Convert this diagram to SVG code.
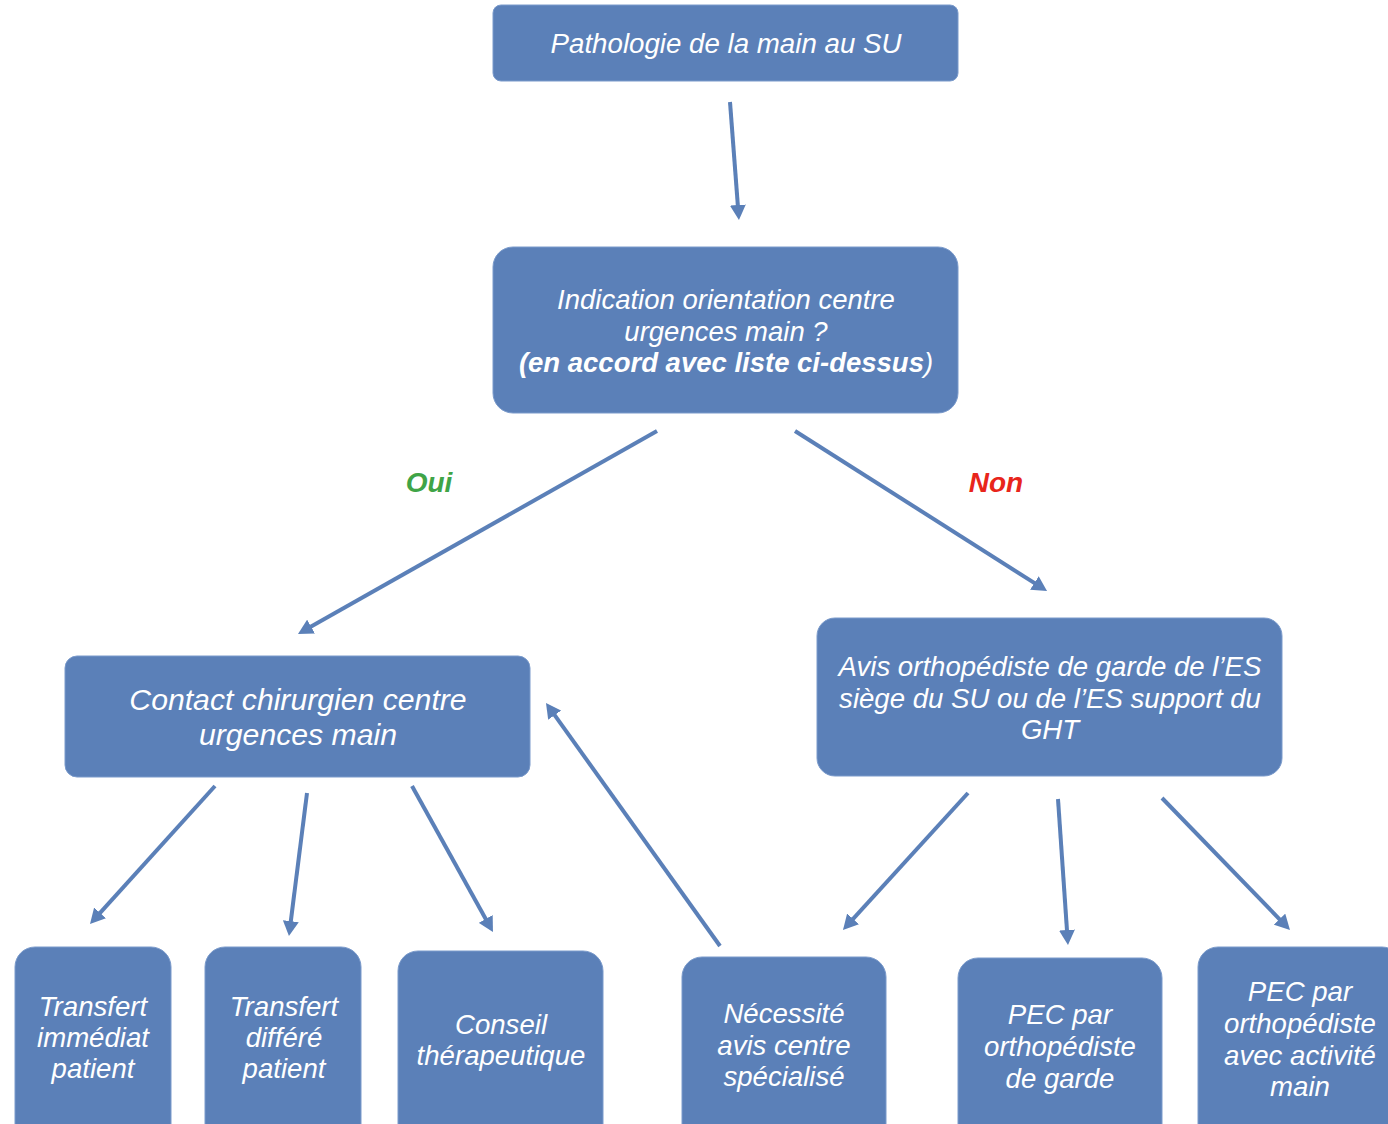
<svg xmlns="http://www.w3.org/2000/svg" width="1388" height="1124" viewBox="0 0 1388 1124">
<defs>
<style>
.box{fill:#5b80b8;stroke:#7a9acb;stroke-width:1}
.t{fill:#fff;font-family:"Liberation Sans",Arial,sans-serif;font-style:italic;text-anchor:middle}
.c{stroke:#5b80b8;stroke-width:4;fill:none;marker-end:url(#ah)}
.lbl{font-family:"Liberation Sans",Arial,sans-serif;font-style:italic;font-weight:bold;font-size:28px}
</style>
<marker id="ah" viewBox="0 0 16 16" refX="5" refY="8" markerWidth="16" markerHeight="16" markerUnits="userSpaceOnUse" orient="auto">
<path d="M0,0 L15,8 L0,16 z" fill="#5b80b8"/>
</marker>
</defs>
<rect width="1388" height="1124" fill="#fff"/>
<g id="connectors">
<path class="c" d="M730,102 L738.2,210"/>
<path class="c" d="M657,431 L306.7,629.1"/>
<path class="c" d="M795,431 L1038.6,585.6"/>
<path class="c" d="M215,786 L96.7,916.6"/>
<path class="c" d="M307,793 L290.2,926.1"/>
<path class="c" d="M412,786 L488.1,923.3"/>
<path class="c" d="M720,946 L551.8,711.1"/>
<path class="c" d="M968,793 L849.7,922.6"/>
<path class="c" d="M1058,799 L1067.3,935"/>
<path class="c" d="M1162,798 L1283,922.8"/>
<text class="lbl" x="429" y="492" fill="#3fa447" text-anchor="middle">Oui</text>
<text class="lbl" x="996" y="492" fill="#e8251b" text-anchor="middle">Non</text>
</g>
<g id="n-top">
<rect class="box" x="493" y="5" width="465" height="76" rx="8"/>
<text class="t" x="726" y="53" font-size="27.7">Pathologie de la main au SU</text>
</g>
<g id="n-indication">
<rect class="box" x="493" y="247" width="465" height="166" rx="20"/>
<text class="t" font-size="27.5"><tspan x="726" y="309">Indication orientation centre</tspan><tspan x="726" y="341">urgences main ?</tspan><tspan x="726" y="372" font-weight="bold">(en accord avec liste ci-dessus</tspan><tspan>)</tspan></text>
</g>
<g id="n-contact">
<rect class="box" x="65" y="656" width="465" height="121" rx="12"/>
<text class="t" font-size="30.2"><tspan x="298" y="710">Contact chirurgien centre</tspan><tspan x="298" y="745">urgences main</tspan></text>
</g>
<g id="n-avis">
<rect class="box" x="817" y="618" width="465" height="158" rx="18"/>
<text class="t" font-size="27.6"><tspan x="1050" y="676">Avis orthopédiste de garde de l’ES</tspan><tspan x="1050" y="708">siège du SU ou de l’ES support du</tspan><tspan x="1050" y="739">GHT</tspan></text>
</g>
<g id="n-transfert-immediat">
<rect class="box" x="15" y="947" width="156" height="200" rx="20"/>
<text class="t" font-size="27.6"><tspan x="93" y="1016">Transfert</tspan><tspan x="93" y="1047">immédiat</tspan><tspan x="93" y="1078">patient</tspan></text>
</g>
<g id="n-transfert-differe">
<rect class="box" x="205" y="947" width="156" height="200" rx="20"/>
<text class="t" font-size="27.6"><tspan x="284" y="1016">Transfert</tspan><tspan x="284" y="1047">différé</tspan><tspan x="284" y="1078">patient</tspan></text>
</g>
<g id="n-conseil">
<rect class="box" x="398" y="951" width="205" height="200" rx="20"/>
<text class="t" font-size="27.6"><tspan x="501" y="1034">Conseil</tspan><tspan x="501" y="1065">thérapeutique</tspan></text>
</g>
<g id="n-necessite">
<rect class="box" x="682" y="957" width="204" height="200" rx="20"/>
<text class="t" font-size="27.6"><tspan x="784" y="1023">Nécessité</tspan><tspan x="784" y="1055">avis centre</tspan><tspan x="784" y="1086">spécialisé</tspan></text>
</g>
<g id="n-pec-garde">
<rect class="box" x="958" y="958" width="204" height="200" rx="20"/>
<text class="t" font-size="27.6"><tspan x="1060" y="1024">PEC par</tspan><tspan x="1060" y="1056">orthopédiste</tspan><tspan x="1060" y="1088">de garde</tspan></text>
</g>
<g id="n-pec-main">
<rect class="box" x="1198" y="947" width="204" height="200" rx="20"/>
<text class="t" font-size="27.6"><tspan x="1300" y="1001">PEC par</tspan><tspan x="1300" y="1033">orthopédiste</tspan><tspan x="1300" y="1065">avec activité</tspan><tspan x="1300" y="1096">main</tspan></text>
</g>
</svg>
